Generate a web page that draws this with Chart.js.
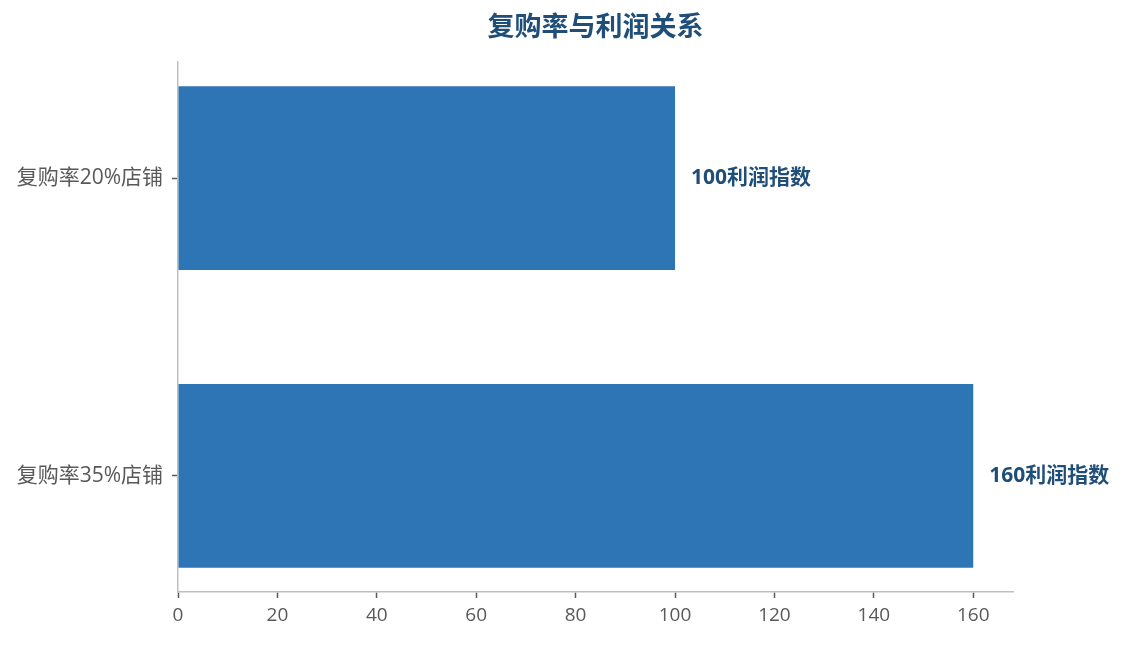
<!DOCTYPE html>
<html>
<head>
<meta charset="utf-8">
<script src="https://cdn.jsdelivr.net/npm/chart.js@4/dist/chart.umd.min.js"></script>
<style>
  html, body { margin: 0; padding: 0; background: #fff; }
  #wrap { width: 1126px; height: 645px; }
</style>
</head>
<body>
<div id="wrap"><canvas id="c"></canvas></div>
<script>
const chartTitle = '复购率与利润关系';
const categories = ['复购率20%店铺', '复购率35%店铺'];
const profitIndex = [100, 160];
const labelSuffix = '利润指数';
const xTicks = [0, 20, 40, 60, 80, 100, 120, 140, 160];

const FONT = "'Open Sans', 'Noto Sans CJK SC', sans-serif";
const barColor = '#2e75b6';
const darkBlue = '#1f4e79';
const tickText = '#595959';

// 标题居中于绘图区
const titlePlugin = {
  id: 'plotTitle',
  afterDraw(chart) {
    const { ctx, chartArea } = chart;
    ctx.save();
    ctx.font = 'bold 27px ' + FONT;
    ctx.fillStyle = darkBlue;
    ctx.textAlign = 'center';
    ctx.textBaseline = 'middle';
    ctx.fillText(chartTitle, (chartArea.left + chartArea.right) / 2, 28);
    ctx.restore();
  }
};

// 柱子末端的数值标签
const valueLabels = {
  id: 'valueLabels',
  afterDatasetsDraw(chart) {
    const { ctx } = chart;
    const meta = chart.getDatasetMeta(0);
    ctx.save();
    ctx.font = 'bold 21px ' + FONT;
    ctx.fillStyle = darkBlue;
    ctx.textAlign = 'left';
    ctx.textBaseline = 'middle';
    meta.data.forEach((bar, i) => {
      ctx.fillText(profitIndex[i] + labelSuffix, bar.x + 16, bar.y);
    });
    ctx.restore();
  }
};

new Chart(document.getElementById('c'), {
  type: 'bar',
  data: {
    datasets: [{
      data: profitIndex.map((v, i) => ({ x: v, y: i })),
      backgroundColor: barColor,
      borderWidth: 0,
      barPercentage: 0.617,
      categoryPercentage: 1
    }]
  },
  options: {
    indexAxis: 'y',
    responsive: true,
    maintainAspectRatio: false,
    animation: false,
    layout: { padding: { top: 62, right: 113, left: 0, bottom: 0 } },
    plugins: {
      legend: { display: false },
      tooltip: { enabled: false }
    },
    scales: {
      x: {
        type: 'linear',
        min: 0,
        max: 168,
        afterBuildTicks: (scale) => { scale.ticks = xTicks.map(v => ({ value: v })); },
        afterFit: (scale) => { scale.height = 53; },
        grid: { drawOnChartArea: false, drawTicks: true, tickLength: 6, tickColor: '#595959', tickWidth: 1.5 },
        border: { color: '#bfbfbf', width: 1.5 },
        ticks: { color: tickText, font: { family: FONT, size: 19 }, padding: 6, maxRotation: 0 }
      },
      y: {
        type: 'linear',
        reverse: true,
        offset: false,
        min: -0.39,
        max: 1.39,
        afterBuildTicks: (scale) => { scale.ticks = categories.map((c, i) => ({ value: i })); },
        afterFit: (scale) => { scale.width = 178; },
        grid: { offset: false, drawOnChartArea: false, drawTicks: true, tickLength: 6, tickColor: '#595959', tickWidth: 1.5 },
        border: { color: '#bfbfbf', width: 1.5 },
        ticks: {
          color: tickText,
          font: { family: FONT, size: 21 },
          padding: 9,
          callback: (v) => categories[v] !== undefined ? categories[v] : ''
        }
      }
    }
  },
  plugins: [titlePlugin, valueLabels]
});
</script>
</body>
</html>
